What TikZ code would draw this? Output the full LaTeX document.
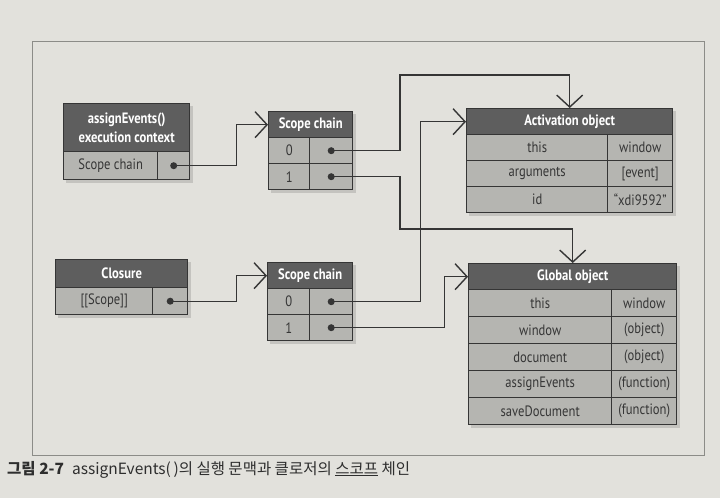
\documentclass[tikz,border=0pt]{standalone}
\usepackage{fontspec}
\setmainfont{PT Sans}[FakeStretch=0.84]
\newfontfamily\kr{Noto Sans CJK KR}
\usetikzlibrary{arrows.meta}
\definecolor{paper}{HTML}{E2E1DC}
\definecolor{framec}{HTML}{8C8C88}
\definecolor{linec}{HTML}{353535}
\definecolor{hdrc}{HTML}{5E5E5E}
\definecolor{rowc}{HTML}{B5B5B1}
\definecolor{txtc}{HTML}{363636}
\definecolor{capc}{HTML}{2E2E2E}
\newcommand{\rowfont}{\fontsize{15}{17}\selectfont}
\newcommand{\hdrfont}{\fontsize{15}{19}\selectfont\bfseries}
\tikzset{
  cell/.style={draw=linec, line width=1.4pt, fill=rowc, anchor=north west, inner sep=0pt,
    text=txtc, font=\rowfont, minimum height=26pt},
  hdr/.style={cell, fill=hdrc, text=white, font=\hdrfont, align=center},
  dotn/.style={circle, fill=linec, draw=none, inner sep=0pt, minimum size=7pt},
  conn/.style={draw=linec, line width=1.4pt,
    -{Straight Barb[length=12pt,width=26pt,line width=1.4pt]}},
  shade/.style={fill=black, opacity=0.13},
}
\begin{document}
\begin{tikzpicture}[x=1pt,y=-1pt]
\useasboundingbox (0,0) rectangle (720,498);
\fill[paper] (0,0) rectangle (720,498);
\draw[framec, line width=0.8pt] (32,41) rectangle (704,455);

% shadows
\fill[shade] (66,106) rectangle (193,183);
\fill[shade] (271,114) rectangle (356,193);
\fill[shade] (469,111) rectangle (676,216);
\fill[shade] (58,262) rectangle (191,318);
\fill[shade] (270,265) rectangle (356,344);
\fill[shade] (471,266) rectangle (680,428);

% assignEvents execution context
\node[hdr, minimum width=126pt, minimum height=48pt] (aeh) at (63,103) {assignEvents()\\execution context};
\node[cell, minimum width=94pt, minimum height=28pt] (aek) at (63,151) {Scope chain};
\node[cell, minimum width=32pt, minimum height=28pt] (aev) at (157,151) {};
\node[dotn] (aed) at (aev.center) {};

% Scope chain 1
\node[hdr, minimum width=84pt] (s1h) at (268,111) {Scope chain};
\node[cell, minimum width=41pt] (s1k0) at (268,137) {0};
\node[cell, minimum width=43pt] (s1v0) at (309,137) {};
\node[cell, minimum width=41pt] (s1k1) at (268,163) {1};
\node[cell, minimum width=43pt] (s1v1) at (309,163) {};
\node[dotn] (s1d0) at (s1v0.center) {};
\node[dotn] (s1d1) at (s1v1.center) {};

% Activation object
\node[hdr, minimum width=206pt] (ach) at (466,108) {Activation object};
\node[cell, minimum width=141pt] (ack0) at (466,134) {this};
\node[cell, minimum width=65pt] (acv0) at (607,134) {window};
\node[cell, minimum width=141pt] (ack1) at (466,160) {arguments};
\node[cell, minimum width=65pt] (acv1) at (607,160) {[event]};
\node[cell, minimum width=141pt] (ack2) at (466,186) {id};
\node[cell, minimum width=65pt] (acv2) at (607,186) {“xdi9592”};

% Closure
\node[hdr, minimum width=132pt, minimum height=28pt] (clh) at (55,259) {Closure};
\node[cell, minimum width=97pt, minimum height=27pt] (clk) at (55,287) {[[Scope]]};
\node[cell, minimum width=35pt, minimum height=27pt] (clv) at (152,287) {};
\node[dotn] (cld) at (clv.center) {};

% Scope chain 2
\node[hdr, minimum width=85pt] (s2h) at (267,262) {Scope chain};
\node[cell, minimum width=42pt] (s2k0) at (267,288) {0};
\node[cell, minimum width=43pt] (s2v0) at (309,288) {};
\node[cell, minimum width=42pt] (s2k1) at (267,314) {1};
\node[cell, minimum width=43pt] (s2v1) at (309,314) {};
\node[dotn] (s2d0) at (s2v0.center) {};
\node[dotn] (s2d1) at (s2v1.center) {};

% Global object
\node[hdr, minimum width=208pt] (glh) at (468,263) {Global object};
\node[cell, minimum width=143pt, minimum height=27pt] (glk0) at (468,289) {this};
\node[cell, minimum width=65pt, minimum height=27pt] (glv0) at (611,289) {window};
\node[cell, minimum width=143pt, minimum height=27pt] (glk1) at (468,316) {window};
\node[cell, minimum width=65pt, minimum height=27pt] (glv1) at (611,316) {(object)};
\node[cell, minimum width=143pt, minimum height=27pt] (glk2) at (468,343) {document};
\node[cell, minimum width=65pt, minimum height=27pt] (glv2) at (611,343) {(object)};
\node[cell, minimum width=143pt, minimum height=27pt] (glk3) at (468,370) {assignEvents};
\node[cell, minimum width=65pt, minimum height=27pt] (glv3) at (611,370) {(function)};
\node[cell, minimum width=143pt, minimum height=27pt] (glk4) at (468,397) {saveDocument};
\node[cell, minimum width=65pt, minimum height=27pt] (glv4) at (611,397) {(function)};

% connectors
\coordinate (j1) at (400,75);
\coordinate (j2) at (400,229);
\draw[conn] (aed.center) -- ++(63,0) |- (s1h.west);
\draw[conn] (cld.center) -- ++(66,0) |- (s2h.west);
\draw[conn] (s1d0.center) -| (j1) -| (ach.north);
\draw[conn] (s1d1.center) -| (j2) -| (glh.north);
\draw[conn] (s2d0.center) -- ++(89,0) |- (ach.west);
\draw[conn] (s2d1.center) -- ++(113,0) |- (glh.west);

% caption
\node[anchor=base west, inner sep=0pt, text=capc, font=\kr\fontsize{15.5}{17}\selectfont] (cap) at (7,474)
  {\textbf{그림 2-7}\hspace{8pt}assignEvents(\,)의 실행 문맥과 클로저의 \underline{스코프} 체인};
\end{tikzpicture}
\end{document}
